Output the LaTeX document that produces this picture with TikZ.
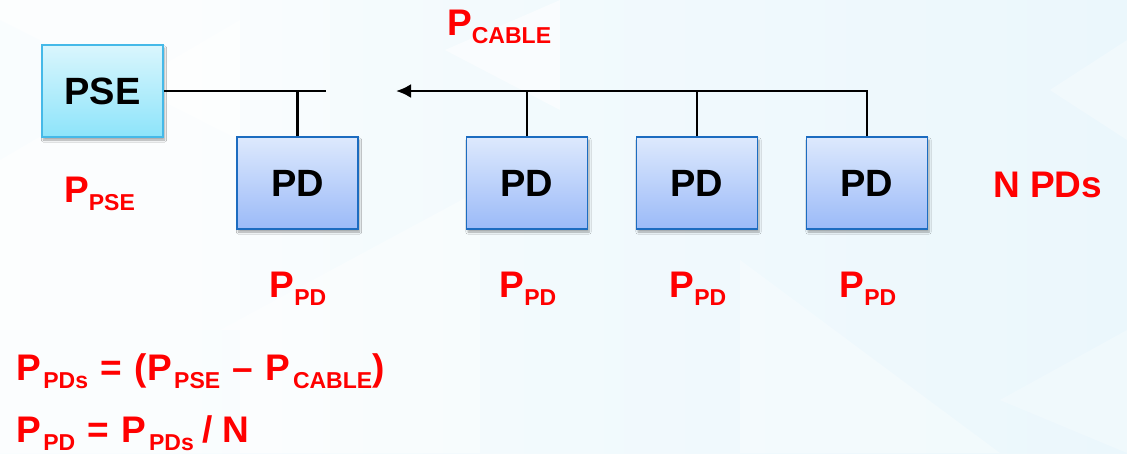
\documentclass[tikz,border=0pt]{standalone}
\usepackage{fontspec}
\setmainfont{Liberation Sans}
\usetikzlibrary{arrows.meta,shadows.blur}
\definecolor{bgblue}{HTML}{EBF7FC}
\definecolor{pdtop}{HTML}{DDE9FD}
\definecolor{pdbot}{HTML}{9BBAF8}
\definecolor{pdline}{HTML}{1C6CC0}
\definecolor{psetop}{HTML}{DAF6FD}
\definecolor{psebot}{HTML}{8DE4FA}
\definecolor{pseline}{HTML}{45B9E8}
\definecolor{lblred}{HTML}{FF0000}
\newcommand\Psb[1]{P\raisebox{-8pt}{\fontsize{23}{23}\selectfont #1}}
\newcommand\Psx[1]{P\hspace{2.5pt}\raisebox{-8pt}{\fontsize{23}{23}\selectfont #1}}
\newcommand\eqgap{\hspace{12.5pt}}
\tikzset{
  boxbase/.style={rectangle, minimum width=121pt, minimum height=92pt, inner sep=0pt,
    line width=1.6pt, font=\fontsize{38}{38}\selectfont\bfseries,
    blur shadow={shadow xshift=1.5pt, shadow yshift=-3pt, shadow opacity=35, shadow blur steps=6}},
  pdbox/.style={boxbase, draw=pdline, top color=pdtop, bottom color=pdbot},
  psebox/.style={boxbase, draw=pseline, top color=psetop, bottom color=psebot},
  lbl/.style={inner sep=0pt, text=lblred, font=\fontsize{37}{37}\selectfont\bfseries},
  wire/.style={line width=2.6pt, draw=black},
  tri/.style={fill=white, opacity=0.55, draw=none}
}
\begin{document}
\begin{tikzpicture}[x=1pt,y=-1pt]
\path[use as bounding box, left color=white!70!bgblue, right color=bgblue] (0,0) rectangle (1127,453);
% faint background facets
\fill[tri] (0,0) -- (240,0) -- (240,140) -- (0,20) -- cycle;
\fill[tri] (0,160) -- (240,20) -- (240,330) -- (0,330) -- cycle;
\fill[tri, opacity=0.35] (240,0) -- (330,0) -- (330,453) -- (240,453) -- cycle;
\fill[tri] (445,50) -- (560,0) -- (560,110) -- cycle;
\fill[tri, opacity=0.4] (0,330) -- (220,330) -- (480,190) -- (480,453) -- (0,453) -- cycle;
\fill[tri, opacity=0.3] (740,260) -- (1000,453) -- (740,453) -- cycle;
\fill[tri, opacity=0.25] (1000,400) -- (1127,330) -- (1127,453) -- cycle;
\fill[tri, opacity=0.3] (1050,90) -- (1127,40) -- (1127,140) -- cycle;

\node[psebox] (pse) at (102.5,91) {PSE};
\node[pdbox] (pd1) at (297.5,183) {PD};
\node[pdbox] (pd2) at (527,183) {PD};
\node[pdbox] (pd3) at (697,183) {PD};
\node[pdbox] (pd4) at (867,183) {PD};

\coordinate (busend) at (326,91);
\coordinate (tip) at (396,91);

\draw[wire] (pse.east) -- (busend);
\draw[wire] (pd1.north) -- (pd1.north |- busend);
\draw[wire, -{Latex[length=15pt,width=14pt]}] (pd4.north) |- (tip);
\draw[wire] (pd2.north) -- (pd2.north |- tip);
\draw[wire] (pd3.north) -- (pd3.north |- tip);

\node[lbl, anchor=base west] (pcable) at (447,35) {\Psb{CABLE}};
\node[lbl, anchor=base west] (ppse) at (64,202) {\Psb{PSE}};
\node[lbl, anchor=base] (ppd1) at (298,297) {\Psb{PD}};
\node[lbl, anchor=base] (ppd2) at (528,297) {\Psb{PD}};
\node[lbl, anchor=base] (ppd3) at (698,297) {\Psb{PD}};
\node[lbl, anchor=base] (ppd4) at (868,297) {\Psb{PD}};
\node[lbl, anchor=base west] (npds) at (993,197) {N PDs};
\node[lbl, anchor=base west] (eq1) at (16,380) {\Psx{PDs}\eqgap=\eqgap(\Psx{PSE}\eqgap–\eqgap\Psx{CABLE})};
\node[lbl, anchor=base west] (eq2) at (16,442) {\Psx{PD}\eqgap=\eqgap\Psx{PDs}\hspace{9pt}/\hspace{9pt}N};
\end{tikzpicture}
\end{document}
